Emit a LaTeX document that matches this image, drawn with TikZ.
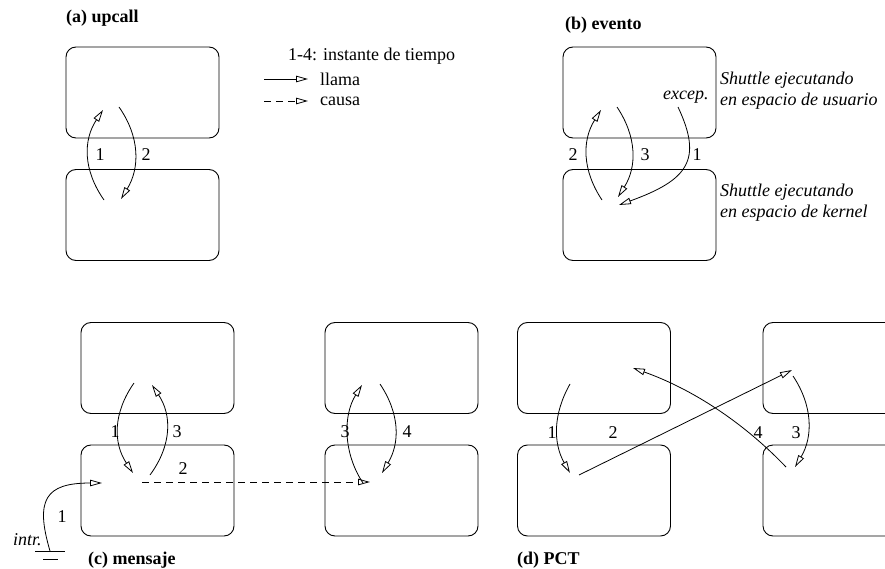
\documentclass[tikz,border=0pt]{standalone}
\usepackage{fontspec}
\setmainfont{Liberation Serif}
\usetikzlibrary{arrows.meta}
\begin{document}
\begin{tikzpicture}[x=1bp,y=-1bp,
  box/.style={draw, rounded corners=10bp, minimum width=153bp, minimum height=91bp, inner sep=0pt, line width=0.9bp},
  conn/.style={-{Triangle[open,length=12bp,width=6.5bp]}, line width=0.8bp},
  cause/.style={conn, dash pattern=on 7bp off 5bp},
  lbl/.style={inner sep=0pt, font=\fontsize{18bp}{21bp}\selectfont},
  ttl/.style={inner sep=0pt, anchor=west, font=\fontsize{18bp}{21bp}\selectfont\bfseries},
  txt/.style={inner sep=0pt, anchor=west, font=\fontsize{18bp}{21bp}\selectfont},
  itxt/.style={inner sep=0pt, anchor=west, font=\fontsize{18bp}{21bp}\selectfont\itshape}]
\clip (0,0) rectangle (885,569);
\fill[white] (0,0) rectangle (885,569);

% ---------- (a) upcall ----------
\node[ttl] (ta) at (66,18) {(a) upcall};
\node[box] (aU) at (142.5,92.5) {};
\node[box] (aK) at (142.5,215) {};
\coordinate (a1s) at (104,200); \coordinate (a1e) at (103,110);
\coordinate (a2s) at (119,107); \coordinate (a2e) at (121,199);
\draw[conn] (a1s) .. controls (83,170) and (83,140) .. (a1e);
\draw[conn] (a2s) .. controls (140,137) and (140,168) .. (a2e);
\node[lbl] (la1) at (100,155) {1};
\node[lbl] (la2) at (146,155) {2};

% ---------- legend ----------
\node[txt] (lg0) at (288,56) {1-4: instante de tiempo};
\coordinate (lg1s) at (264,79); \coordinate (lg1e) at (308,79);
\coordinate (lg2s) at (264,101); \coordinate (lg2e) at (308,101);
\draw[conn] (lg1s) -- (lg1e);
\draw[cause] (lg2s) -- (lg2e);
\node[txt] (lg1) at (320,79) {llama};
\node[txt] (lg2) at (320,101) {causa};

% ---------- (b) evento ----------
\node[ttl] (tb) at (565,25) {(b) evento};
\node[box] (bU) at (639.5,92.5) {};
\node[box] (bK) at (639.5,215) {};
\node[itxt] (bu1) at (720,80) {Shuttle ejecutando};
\node[itxt] (bu2) at (720,101) {en espacio de usuario};
\node[itxt] (bk1) at (720,192) {Shuttle ejecutando};
\node[itxt] (bk2) at (720,213) {en espacio de kernel};
\node[itxt] (exc) at (663,97) {excep.};
\coordinate (b2s) at (602,200); \coordinate (b2e) at (601,110);
\coordinate (b3s) at (617,107); \coordinate (b3e) at (618,197);
\coordinate (b1s) at (678,107); \coordinate (b1e) at (619,205);
\draw[conn] (b2s) .. controls (582,170) and (582,140) .. (b2e);
\draw[conn] (b3s) .. controls (637,137) and (637,167) .. (b3e);
\draw[conn] (b1s) .. controls (703,160) and (688,180) .. (b1e);
\node[lbl] (lb2) at (573,155) {2};
\node[lbl] (lb3) at (645,155) {3};
\node[lbl] (lb1) at (697,155) {1};

% ---------- (c) mensaje ----------
\node[box] (cLU) at (157.5,368) {};
\node[box] (cLK) at (157.5,490.5) {};
\node[box] (cRU) at (401.5,368) {};
\node[box] (cRK) at (401.5,490.5) {};
\coordinate (c1s) at (134,383); \coordinate (c1e) at (133,473);
\coordinate (c3s) at (150,475); \coordinate (c3e) at (152,385);
\coordinate (c2s) at (142,482); \coordinate (c2e) at (370,482);
\coordinate (r3s) at (363,483); \coordinate (r3e) at (362,385);
\coordinate (r4s) at (380,384); \coordinate (r4e) at (382,473);
\coordinate (gnd) at (50,551); \coordinate (ie) at (102,483);
\draw[conn] (c1s) .. controls (113,413) and (113,443) .. (c1e);
\draw[conn] (c3s) .. controls (172,445) and (172,415) .. (c3e);
\draw[cause] (c2s) -- (c2e);
\draw[conn] (r3s) .. controls (343,453) and (343,415) .. (r3e);
\draw[conn] (r4s) .. controls (400,414) and (400,443) .. (r4e);
\draw[conn] (gnd) .. controls (35,500) and (45,483) .. (ie);
\coordinate (g1a) at (35,551); \coordinate (g1b) at (65,551);
\coordinate (g2a) at (43,559); \coordinate (g2b) at (58,559);
\draw[line width=0.8bp] (g1a) -- (g1b);
\draw[line width=0.8bp] (g2a) -- (g2b);
\node[itxt] (intr) at (13,540) {intr.};
\node[lbl] (lc0) at (62,517) {1};
\node[lbl] (lc1) at (115,432) {1};
\node[lbl] (lc3) at (177,432) {3};
\node[lbl] (lc2) at (183,469) {2};
\node[lbl] (lr3) at (345,432) {3};
\node[lbl] (lr4) at (407,432) {4};
\node[ttl] (tc) at (88,560) {(c) mensaje};

% ---------- (d) PCT ----------
\node[box] (dLU) at (594,368) {};
\node[box] (dLK) at (594,490.5) {};
\node[box] (dRU) at (839.5,368) {};
\node[box] (dRK) at (839.5,490.5) {};
\coordinate (d1s) at (570,384); \coordinate (d1e) at (570,473);
\coordinate (d2s) at (579,475); \coordinate (d2e) at (792,370);
\coordinate (d3s) at (793,376); \coordinate (d3e) at (795,467);
\coordinate (d4s) at (786,467); \coordinate (d4e) at (633,368);
\draw[conn] (d1s) .. controls (553,414) and (553,443) .. (d1e);
\draw[conn] (d2s) -- (d2e);
\draw[conn] (d3s) .. controls (813,406) and (813,437) .. (d3e);
\draw[conn] (d4s) .. controls (743,422) and (692,389) .. (d4e);
\node[lbl] (ld1) at (552,433) {1};
\node[lbl] (ld2) at (613,433) {2};
\node[lbl] (ld4) at (758,433) {4};
\node[lbl] (ld3) at (796,433) {3};
\node[ttl] (td) at (517,560) {(d) PCT};
\end{tikzpicture}
\end{document}
